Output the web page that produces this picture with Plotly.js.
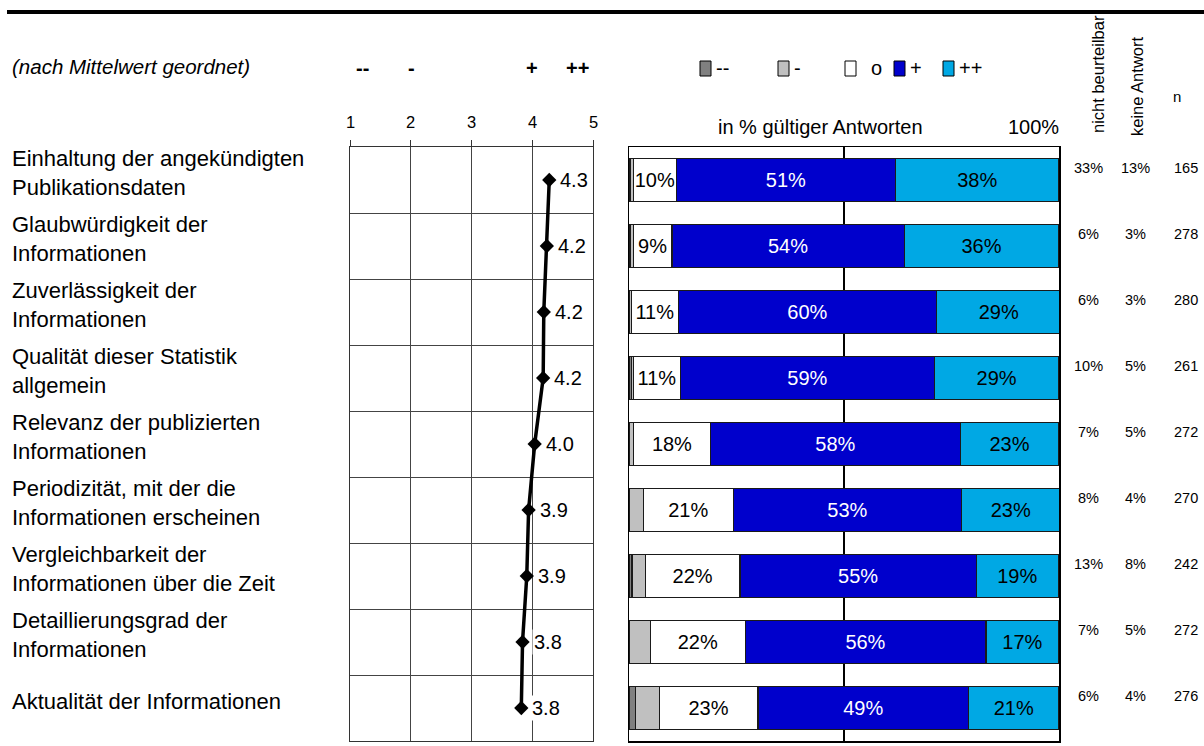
<!DOCTYPE html>
<html>
<head>
<meta charset="utf-8">
<script src="https://cdn.plot.ly/plotly-3.0.1.min.js"></script>
<style>html,body{margin:0;padding:0;background:#fff;}#chart{width:1204px;height:746px;}</style>
</head>
<body>
<div id="chart"></div>
<script>
// ---------- data ----------
const categories = [
  "Einhaltung der angekündigten<br>Publikationsdaten",
  "Glaubwürdigkeit der<br>Informationen",
  "Zuverlässigkeit der<br>Informationen",
  "Qualität dieser Statistik<br>allgemein",
  "Relevanz der publizierten<br>Informationen",
  "Periodizität, mit der die<br>Informationen erscheinen",
  "Vergleichbarkeit der<br>Informationen über die Zeit",
  "Detaillierungsgrad der<br>Informationen",
  "Aktualität der Informationen"
];
const meanValues   = [4.28, 4.24, 4.19, 4.18, 4.04, 3.94, 3.91, 3.84, 3.82];
const pctVeryBad   = [0.4, 0.4, 0.2, 0.6, 0.2, 0.0, 0.7, 0.0, 1.6];
const pctBad       = [0.6, 0.6, 0.3, 0.4, 0.8, 3.3, 3.1, 5.0, 5.4];
const pctNeutral   = [10, 9, 11, 11, 18, 21, 22, 22, 23];
const pctGood      = [51, 54, 60, 59, 58, 53, 55, 56, 49];
const pctVeryGood  = [38, 36, 29, 29, 23, 23, 19, 17, 21];
const notAssessable = [33, 6, 6, 10, 7, 8, 13, 7, 6];
const noAnswer      = [13, 3, 3, 5, 5, 4, 8, 5, 4];
const nValues       = [165, 278, 280, 261, 272, 270, 242, 272, 276];
const scaleTicks    = [1, 2, 3, 4, 5];
const scaleSymbols  = ["--", "-", "", "+", "++"];
const symbolPos     = [1.21, 2.02, null, 4.0, 4.74];
const seriesNames   = ["--", "-", "o", "+", "++"];
const seriesColors  = ["#808080", "#c0c0c0", "#ffffff", "#0000cc", "#00a8e4"];
const seriesText    = [null, null, "#000000", "#ffffff", "#000000"];

// ---------- helpers ----------
const W = 1204, H = 746;
const px = x => x / W;
const py = y => 1 - y / H;
const FONT = "Liberation Sans, Arial, sans-serif";
const rows = categories.map((_, i) => i);
const seriesData = [pctVeryBad, pctBad, pctNeutral, pctGood, pctVeryGood];

const traces = [];
// stacked bars
seriesData.forEach((vals, k) => {
  const t = {
    type: "bar", orientation: "h", xaxis: "x2", yaxis: "y2",
    x: vals, y: rows, width: 0.66, name: seriesNames[k],
    marker: {color: seriesColors[k], line: {color: "#1a1a1a", width: 1.2}},
    hoverinfo: "skip"
  };
  if (seriesText[k]) {
    t.text = vals.map(v => v + "%");
    t.textposition = "inside";
    t.insidetextanchor = "middle";
    t.constraintext = "none";
    t.textangle = 0;
    t.textfont = {family: FONT, size: 20, color: seriesText[k]};
  } else {
    t.textposition = "none";
  }
  traces.push(t);
});
// mean profile
traces.push({
  type: "scatter", mode: "lines+markers", xaxis: "x", yaxis: "y",
  x: meanValues, y: rows,
  line: {color: "#000", width: 3.5},
  marker: {symbol: "diamond", size: 11, color: "#000"},
  hoverinfo: "skip"
});

const annotations = [];
const shapes = [];

// row labels
categories.forEach((c, i) => annotations.push({
  xref: "paper", yref: "y", x: px(10), y: i, xanchor: "left", yanchor: "middle",
  yshift: 7, text: c, showarrow: false, align: "left",
  font: {family: FONT, size: 22, color: "#000"}
}));
// mean labels
meanValues.forEach((v, i) => annotations.push({
  xref: "x", yref: "y", x: v, y: i, xanchor: "left", yanchor: "middle",
  xshift: 9, text: v.toFixed(1), showarrow: false, bgcolor: "#fff", borderpad: 1,
  font: {family: FONT, size: 20, color: "#000"}
}));
// right columns
rows.forEach(i => {
  [[notAssessable[i] + "%", 1088], [noAnswer[i] + "%", 1135], [String(nValues[i]), 1186]].forEach(([t, x]) =>
    annotations.push({
      xref: "paper", yref: "y", x: px(x), y: i, xanchor: "center", yanchor: "middle",
      yshift: 12, text: t, showarrow: false, font: {family: FONT, size: 14.5, color: "#000"}
    }));
});
// scale tick labels and symbols
scaleTicks.forEach((t, k) => {
  annotations.push({xref: "x", yref: "paper", x: t, y: py(122), xanchor: "center", yanchor: "middle",
    text: String(t), showarrow: false, font: {family: FONT, size: 16.5, color: "#000"}});
  if (scaleSymbols[k]) annotations.push({xref: "x", yref: "paper", x: symbolPos[k], y: py(68),
    xanchor: "center", yanchor: "middle", text: "<b>" + scaleSymbols[k] + "</b>", showarrow: false,
    font: {family: FONT, size: 20, color: "#000"}});
});
// header texts
annotations.push({xref: "paper", yref: "paper", x: px(10), y: py(67), xanchor: "left", yanchor: "middle",
  text: "<i>(nach Mittelwert geordnet)</i>", showarrow: false, font: {family: FONT, size: 20.5, color: "#000"}});
annotations.push({xref: "paper", yref: "paper", x: px(820), y: py(127), xanchor: "center", yanchor: "middle",
  text: "in % gültiger Antworten", showarrow: false, font: {family: FONT, size: 20, color: "#000"}});
annotations.push({xref: "paper", yref: "paper", x: px(1061), y: py(127), xanchor: "right", yanchor: "middle",
  text: "100%", showarrow: false, font: {family: FONT, size: 20, color: "#000"}});
annotations.push({xref: "paper", yref: "paper", x: px(1098), y: py(74), xanchor: "center", yanchor: "middle",
  text: "nicht beurteilbar", textangle: -90, showarrow: false, font: {family: FONT, size: 16.5, color: "#000"}});
annotations.push({xref: "paper", yref: "paper", x: px(1137), y: py(87), xanchor: "center", yanchor: "middle",
  text: "keine Antwort", textangle: -90, showarrow: false, font: {family: FONT, size: 16.5, color: "#000"}});
annotations.push({xref: "paper", yref: "paper", x: px(1177), y: py(97), xanchor: "center", yanchor: "middle",
  text: "n", showarrow: false, font: {family: FONT, size: 15, color: "#000"}});

// legend (manual)
const legendX = [700, 778, 845, 894, 943];
seriesNames.forEach((nm, k) => {
  const x0 = legendX[k];
  shapes.push({type: "rect", xref: "paper", yref: "paper", x0: px(x0), x1: px(x0 + 11),
    y0: py(76), y1: py(61), fillcolor: seriesColors[k], line: {color: "#000", width: 1}});
  annotations.push({xref: "paper", yref: "paper", x: px(x0 + (k === 2 ? 24 : 14)), y: py(68),
    xanchor: "left", yanchor: "middle", text: nm, showarrow: false,
    font: {family: FONT, size: 20, color: "#000"}});
});

// top rule
shapes.push({type: "line", xref: "paper", yref: "paper", x0: px(7), x1: 1, y0: py(12), y1: py(12),
  line: {color: "#000", width: 4}});

const yDomain = [1 - 741 / H, 1 - 147 / H];
const layout = {
  width: W, height: H, margin: {l: 0, r: 0, t: 0, b: 0},
  paper_bgcolor: "#fff", plot_bgcolor: "rgba(0,0,0,0)", showlegend: false,
  barmode: "stack", bargap: 0,
  font: {family: FONT, color: "#000"},
  xaxis: {domain: [px(350), px(593)], range: [1, 5], side: "top", tickvals: scaleTicks,
    showticklabels: false, ticks: "outside", ticklen: 6, tickcolor: "#333",
    showgrid: true, gridcolor: "#444", gridwidth: 1, zeroline: false,
    showline: true, mirror: true, linecolor: "#333", linewidth: 1, fixedrange: true},
  yaxis: {domain: yDomain, range: [8.5, -0.5], tickvals: [0.5, 1.5, 2.5, 3.5, 4.5, 5.5, 6.5, 7.5],
    showticklabels: false, ticks: "", showgrid: true, gridcolor: "#444", gridwidth: 1, zeroline: false,
    showline: true, mirror: true, linecolor: "#333", linewidth: 1, fixedrange: true},
  xaxis2: {domain: [px(629), px(1059)], range: [0, 100], anchor: "y2", tickvals: [50],
    showticklabels: false, ticks: "", showgrid: true, gridcolor: "#000", gridwidth: 1.5, zeroline: false,
    showline: true, mirror: true, linecolor: "#000", linewidth: 1.5, fixedrange: true},
  yaxis2: {domain: yDomain, range: [8.5, -0.5], anchor: "x2", showticklabels: false, ticks: "",
    showgrid: false, zeroline: false, showline: true, mirror: true, linecolor: "#000", linewidth: 1.5, fixedrange: true},
  annotations: annotations, shapes: shapes
};
Plotly.newPlot("chart", traces, layout, {staticPlot: true, displayModeBar: false});
</script>
</body>
</html>
